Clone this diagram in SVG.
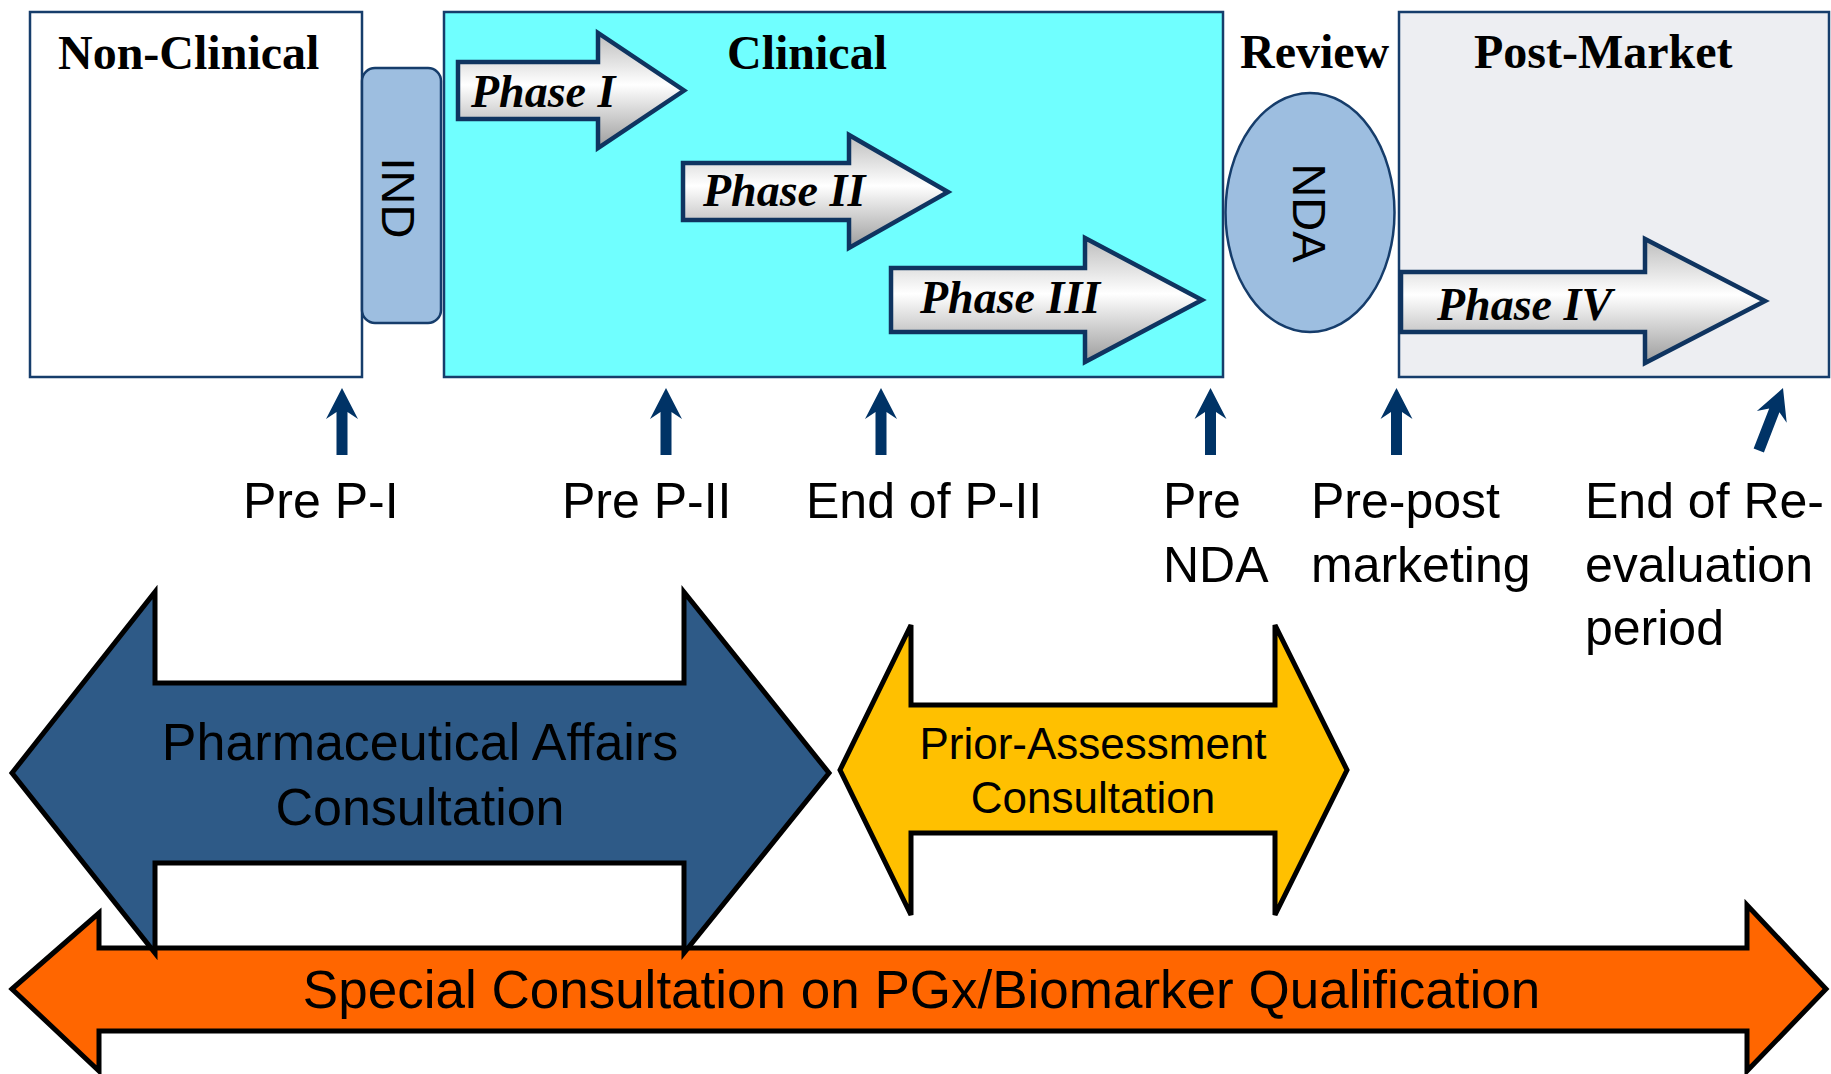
<svg xmlns="http://www.w3.org/2000/svg" width="1831" height="1074" viewBox="0 0 1831 1074">
<defs>
<style>
.box{stroke:#163d6b;stroke-width:2.5}
.title{font-family:"Liberation Serif","Times New Roman",serif;font-weight:bold;font-size:48px;fill:#000}
.phase{fill:url(#grad);stroke:#0f3460;stroke-width:4.5;stroke-linejoin:miter}
.ptxt{font-family:"Liberation Serif","Times New Roman",serif;font-weight:bold;font-style:italic;font-size:46px;fill:#000}
.vtxt{font-family:"Liberation Sans",Arial,sans-serif;font-size:47px;fill:#000;text-anchor:middle}
.lbl{font-family:"Liberation Sans",Arial,sans-serif;font-size:50px;fill:#000}
.big{stroke:#000;stroke-width:5;stroke-linejoin:miter}
.btxt{font-family:"Liberation Sans",Arial,sans-serif;fill:#000;text-anchor:middle}
.up{fill:#003366}
</style>
<linearGradient id="grad" x1="0" y1="0" x2="0" y2="1">
<stop offset="0" stop-color="#bdbdbd"/>
<stop offset="0.45" stop-color="#ffffff"/>
<stop offset="1" stop-color="#9c9c9c"/>
</linearGradient>
<path id="uparrow" d="M0,0 L16,31 L5.5,24 L5.5,67 L-5.5,67 L-5.5,24 L-16,31 Z"/>
</defs>
<rect width="1831" height="1074" fill="#ffffff"/>

<g id="non-clinical">
<rect class="box" x="30" y="12" width="332" height="365" fill="#ffffff"/>
<text class="title" x="58" y="69">Non-Clinical</text>
</g>

<g id="ind">
<rect class="box" x="362" y="68" width="79" height="255" rx="13" ry="13" fill="#9dbee0"/>
<text class="vtxt" transform="translate(382,198) rotate(90)" x="0" y="0">IND</text>
</g>

<g id="clinical">
<rect class="box" x="444" y="12" width="779" height="365" fill="#70ffff"/>
<text class="title" x="727" y="69">Clinical</text>
</g>

<g id="phase1">
<polygon class="phase" points="458,62 598,62 598,33 684,90.5 598,148 598,119 458,119"/>
<text class="ptxt" x="471" y="107">Phase I</text>
</g>

<g id="phase2">
<polygon class="phase" points="683,163 849,163 849,135 948,192 849,248 849,220 683,220"/>
<text class="ptxt" x="703" y="206">Phase II</text>
</g>

<g id="phase3">
<polygon class="phase" points="891,268 1085,268 1085,238 1202,300 1085,362 1085,332 891,332"/>
<text class="ptxt" x="920" y="313">Phase III</text>
</g>

<g id="review">
<text class="title" x="1240" y="68">Review</text>
</g>

<g id="nda">
<ellipse class="box" cx="1310" cy="212.5" rx="84.5" ry="119.5" fill="#9dbee0"/>
<text class="vtxt" transform="translate(1293,213) rotate(90)" x="0" y="0">NDA</text>
</g>

<g id="post-market">
<rect class="box" x="1399" y="12" width="430" height="365" fill="#edeef2"/>
<text class="title" x="1474" y="68">Post-Market</text>
</g>

<g id="phase4">
<polygon class="phase" points="1401,272 1645,272 1645,239 1765,301 1645,363 1645,332 1401,332"/>
<text class="ptxt" x="1437" y="320">Phase IV</text>
</g>

<g id="connectors">
<use href="#uparrow" class="up" transform="translate(342,388)"/>
<use href="#uparrow" class="up" transform="translate(666,388)"/>
<use href="#uparrow" class="up" transform="translate(881,388)"/>
<use href="#uparrow" class="up" transform="translate(1210.5,388)"/>
<use href="#uparrow" class="up" transform="translate(1396.5,388)"/>
<use href="#uparrow" class="up" transform="translate(1783,388) rotate(21.2)"/>
</g>

<g id="milestone-labels">
<text class="lbl" x="243" y="518">Pre P-I</text>
<text class="lbl" x="562" y="518">Pre P-II</text>
<text class="lbl" x="806" y="518">End of P-II</text>
<text class="lbl" x="1163" y="518">Pre</text>
<text class="lbl" x="1163" y="582">NDA</text>
<text class="lbl" x="1311" y="518">Pre-post</text>
<text class="lbl" x="1311" y="582">marketing</text>
<text class="lbl" x="1585" y="518">End of Re-</text>
<text class="lbl" x="1585" y="582">evaluation</text>
<text class="lbl" x="1585" y="645">period</text>
</g>

<g id="special-consultation">
<polygon class="big" fill="#ff6600" points="12,989 99,913 99,948 1747,948 1747,905 1826,989 1747,1071 1747,1031 99,1031 99,1071"/>
<text class="btxt" x="921.5" y="1008" font-size="53">Special Consultation on PGx/Biomarker Qualification</text>
</g>

<g id="pharmaceutical-affairs">
<polygon class="big" fill="#2e5a87" points="12,773 155,592 155,683 684,683 684,592 829,773 684,953 684,863 155,863 155,953"/>
<text class="btxt" x="420" y="760" font-size="52">Pharmaceutical Affairs</text>
<text class="btxt" x="420" y="825" font-size="52">Consultation</text>
</g>

<g id="prior-assessment">
<polygon class="big" fill="#ffc000" points="840,770 911,625 911,705 1275,705 1275,625 1347,770 1275,915 1275,833 911,833 911,915"/>
<text class="btxt" x="1093" y="759" font-size="44">Prior-Assessment</text>
<text class="btxt" x="1093" y="813" font-size="44">Consultation</text>
</g>
</svg>
